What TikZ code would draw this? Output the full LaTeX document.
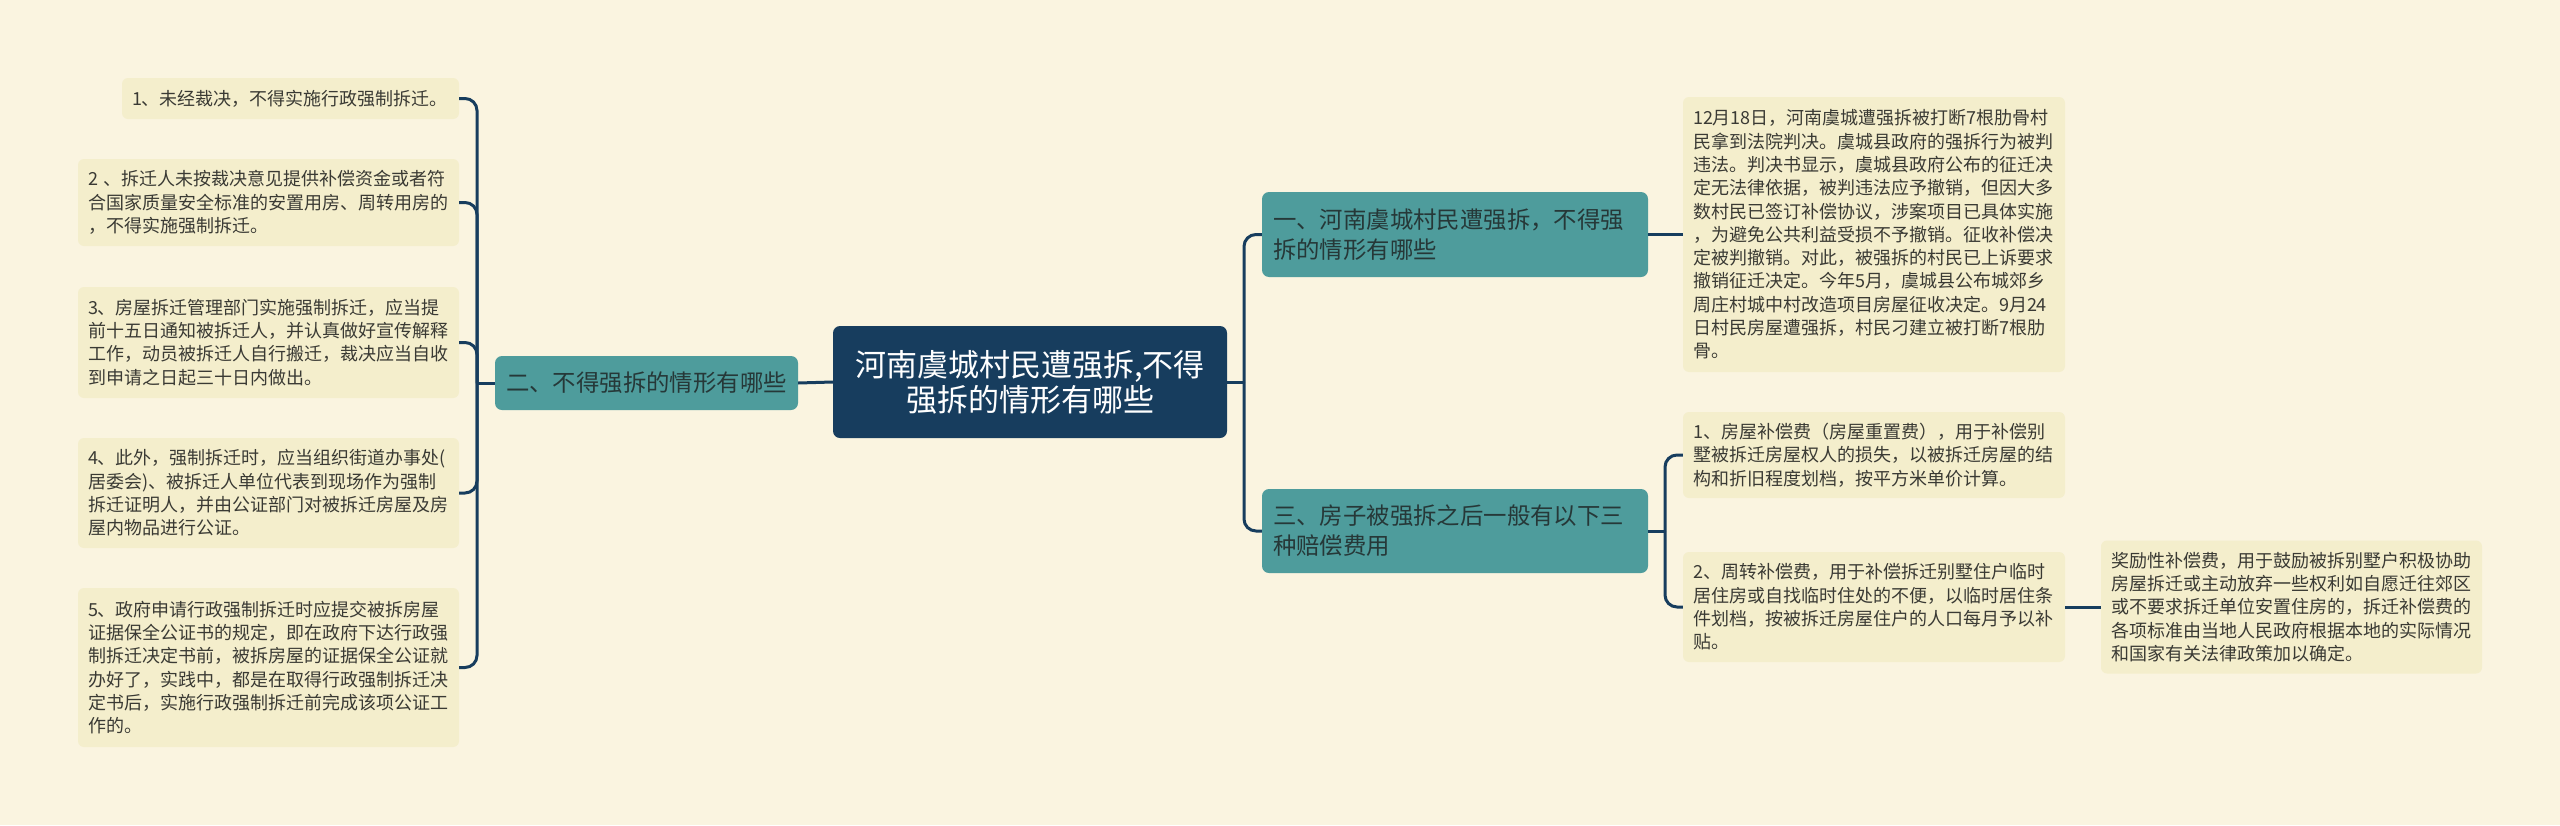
\documentclass[tikz,border=0pt]{standalone}
\usepackage{fontspec}
\setmainfont{Noto Sans CJK SC}
\usetikzlibrary{calc}
\definecolor{bgc}{HTML}{FAF4E0}
\definecolor{leafc}{HTML}{F4EECC}
\definecolor{navy}{HTML}{173D5E}
\definecolor{tealc}{HTML}{4E9C9C}
\definecolor{ttext}{HTML}{263838}
\definecolor{ltext}{HTML}{3A3A34}
\tikzset{
  leaf/.style={fill=leafc, rounded corners=6pt, inner xsep=10pt, inner ysep=0pt, align=left, text=ltext, font=\fontsize{18}{23.3}\selectfont},
  branch/.style={fill=tealc, rounded corners=7pt, inner xsep=11pt, inner ysep=0pt, align=left, text=ttext, font=\fontsize{23.4}{30}\selectfont},
  rootbox/.style={fill=navy, rounded corners=7pt, inner sep=0pt, align=center, text=white, font=\fontsize{31}{35}\selectfont},
  conn/.style={draw=navy, line width=3pt, rounded corners=12pt}
}
\begin{document}
\begin{tikzpicture}[x=1pt,y=-1pt]
\useasboundingbox (0,0) rectangle (2560,825);
\fill[bgc] (0,0) rectangle (2560,825);

% root
\node[rootbox, minimum width=394pt, minimum height=112pt] (root) at (1030,382) {河南虞城村民遭强拆,不得\\强拆的情形有哪些};

% branches
\node[branch, text width=364pt, minimum height=85pt] (b1) at (1455,234.5) {一、河南虞城村民遭强拆，不得强\\拆的情形有哪些};
\node[branch, text width=364pt, minimum height=84pt] (b3) at (1455,531) {三、房子被强拆之后一般有以下三\\种赔偿费用};
\node[branch, align=center, minimum width=303pt, minimum height=54pt] (lb) at (646.5,383) {二、不得强拆的情形有哪些};

% left leaves
\node[leaf, text width=317pt, minimum height=41pt] (L1) at (290.5,98.5) {1、未经裁决，不得实施行政强制拆迁。};
\node[leaf, text width=361pt, minimum height=87pt] (L2) at (268.5,202.5) {2 、拆迁人未按裁决意见提供补偿资金或者符\\合国家质量安全标准的安置用房、周转用房的\\，不得实施强制拆迁。};
\node[leaf, text width=361pt, minimum height=111pt] (L3) at (268.5,342.5) {3、房屋拆迁管理部门实施强制拆迁，应当提\\前十五日通知被拆迁人，并认真做好宣传解释\\工作，动员被拆迁人自行搬迁，裁决应当自收\\到申请之日起三十日内做出。};
\node[leaf, text width=361pt, minimum height=110pt] (L4) at (268.5,493) {4、此外，强制拆迁时，应当组织街道办事处(\\居委会)、被拆迁人单位代表到现场作为强制\\拆迁证明人，并由公证部门对被拆迁房屋及房\\屋内物品进行公证。};
\node[leaf, text width=361pt, minimum height=159pt] (L5) at (268.5,667.5) {5、政府申请行政强制拆迁时应提交被拆房屋\\证据保全公证书的规定，即在政府下达行政强\\制拆迁决定书前，被拆房屋的证据保全公证就\\办好了，实践中，都是在取得行政强制拆迁决\\定书后，实施行政强制拆迁前完成该项公证工\\作的。};

% right leaves
\node[leaf, text width=362pt, minimum height=275pt] (R1) at (1874,234.5) {12月18日，河南虞城遭强拆被打断7根肋骨村\\民拿到法院判决。虞城县政府的强拆行为被判\\违法。判决书显示，虞城县政府公布的征迁决\\定无法律依据，被判违法应予撤销，但因大多\\数村民已签订补偿协议，涉案项目已具体实施\\，为避免公共利益受损不予撤销。征收补偿决\\定被判撤销。对此，被强拆的村民已上诉要求\\撤销征迁决定。今年5月，虞城县公布城郊乡\\周庄村城中村改造项目房屋征收决定。9月24\\日村民房屋遭强拆，村民刁建立被打断7根肋\\骨。};
\node[leaf, text width=362pt, minimum height=86pt] (R3a) at (1874,455) {1、房屋补偿费（房屋重置费），用于补偿别\\墅被拆迁房屋权人的损失，以被拆迁房屋的结\\构和折旧程度划档，按平方米单价计算。};
\node[leaf, text width=362pt, minimum height=110pt] (R3b) at (1874,607) {2、周转补偿费，用于补偿拆迁别墅住户临时\\居住房或自找临时住处的不便，以临时居住条\\件划档，按被拆迁房屋住户的人口每月予以补\\贴。};
\node[leaf, text width=361pt, minimum height=133pt] (R3c) at (2291.5,607) {奖励性补偿费，用于鼓励被拆别墅户积极协助\\房屋拆迁或主动放弃一些权利如自愿迁往郊区\\或不要求拆迁单位安置住房的，拆迁补偿费的\\各项标准由当地人民政府根据本地的实际情况\\和国家有关法律政策加以确定。};

% junctions
\coordinate (jl) at (477,383);
\coordinate (jr) at (1244,382);
\coordinate (j3) at (1665,531);

% connectors
\draw[conn] (root.west) -- (lb.east);
\draw[conn] (lb.west) -- (jl);
\foreach \n in {L1,L2,L3,L4,L5} \draw[conn] (jl) |- (\n.east);
\draw[conn] (root.east) -- (jr);
\draw[conn] (jr) |- (b1.west);
\draw[conn] (jr) |- (b3.west);
\draw[conn] (b1.east) -- (R1.west);
\draw[conn] (b3.east) -- (j3);
\draw[conn] (j3) |- (R3a.west);
\draw[conn] (j3) |- (R3b.west);
\draw[conn] (R3b.east) -- (R3c.west);
\end{tikzpicture}
\end{document}
